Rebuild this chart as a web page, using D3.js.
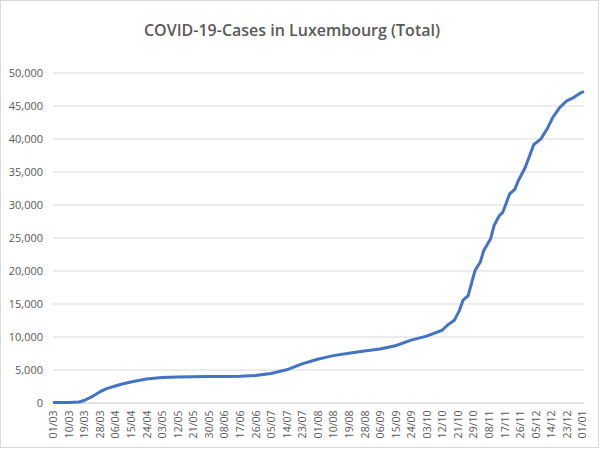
<!DOCTYPE html>
<html>
<head>
<meta charset="utf-8">
<script src="https://cdn.jsdelivr.net/npm/d3@7"></script>
<style>
  body { margin: 0; background: #fff; }
  svg { display: block; }
  text { font-family: "Open Sans", "Noto Sans", sans-serif; }
</style>
</head>
<body>
<div id="chart"></div>
<script>
// Chart size
const width = 600;
const height = 449;

// Tick labels on the date axis (one every 9 days)
const tickLabels = ["01/03", "10/03", "19/03", "28/03", "06/04", "15/04", "24/04",
  "03/05", "12/05", "21/05", "30/05", "08/06", "17/06", "26/06", "05/07", "14/07",
  "23/07", "01/08", "10/08", "19/08", "28/08", "06/09", "15/09", "24/09", "03/10",
  "12/10", "21/10", "29/10", "08/11", "17/11", "26/11", "05/12", "14/12", "23/12", "01/01"];
const tickStep = 9;
const lastDay = 307;

// Day index (from 01/03) and total cases
const sampleDay = [0, 9, 15, 18, 22, 27, 31, 36, 40, 45, 54, 63, 72, 81, 90, 99, 108,
  117, 126, 135, 144, 153, 162, 171, 180, 189, 198, 207, 216, 225, 228, 232, 235, 237,
  240, 244, 247, 249, 253, 255, 258, 260, 264, 267, 269, 273, 278, 282, 286, 289, 293,
  297, 301, 305, 307];
const totalCases = [0, 5, 80, 300, 800, 1600, 2100, 2500, 2800, 3100, 3550, 3780, 3850,
  3900, 3930, 3950, 3980, 4080, 4400, 4950, 5850, 6550, 7100, 7450, 7800, 8100, 8600,
  9450, 10050, 10950, 11700, 12450, 13960, 15470, 16200, 20000, 21250, 23000, 24800,
  26800, 28300, 28800, 31600, 32300, 33600, 35600, 39100, 39900, 41600, 43200, 44700,
  45700, 46200, 46900, 47100];
const yTicks = [0, 5000, 10000, 15000, 20000, 25000, 30000, 35000, 40000, 45000, 50000];

const margin = { top: 72.5, right: 16, bottom: 46.5, left: 53 };

const svg = d3.select("#chart").append("svg")
    .attr("width", width)
    .attr("height", height);

// Outer chart border
svg.append("rect")
    .attr("x", 0.5).attr("y", 0.5)
    .attr("width", width - 2).attr("height", height - 2)
    .attr("fill", "#fff")
    .attr("stroke", "#d9d9d9");

svg.append("text")
    .attr("x", 292)
    .attr("y", 36)
    .attr("text-anchor", "middle")
    .attr("font-size", 16)
    .attr("font-weight", 600)
    .attr("fill", "#595959")
    .text("COVID-19-Cases in Luxembourg (Total)");

const x = d3.scaleLinear()
    .domain([0, lastDay])
    .range([margin.left, width - margin.right]);

const y = d3.scaleLinear()
    .domain([0, 50000])
    .range([height - margin.bottom, margin.top]);

// Y axis with gridlines
const yAxis = svg.append("g")
    .attr("transform", `translate(${margin.left},0)`)
    .call(d3.axisLeft(y)
        .tickValues(yTicks)
        .tickFormat(d3.format(","))
        .tickSize(-(width - margin.right - margin.left))
        .tickPadding(10));
yAxis.select(".domain").remove();
yAxis.selectAll(".tick line").attr("stroke", "#d9d9d9");
yAxis.selectAll(".tick text")
    .attr("font-size", 11)
    .attr("fill", "#595959");

// X axis with rotated date labels
const xAxis = svg.append("g")
    .attr("transform", `translate(0,${y(0)})`)
    .call(d3.axisBottom(x)
        .tickValues(tickLabels.map((d, k) => k * tickStep))
        .tickFormat((d, k) => tickLabels[k])
        .tickSize(0));
xAxis.select(".domain").attr("stroke", "#d9d9d9");
xAxis.selectAll(".tick text")
    .attr("font-size", 10.5)
    .attr("fill", "#595959")
    .attr("text-anchor", "end")
    .attr("transform", "rotate(-90)")
    .attr("x", -8)
    .attr("y", 0)
    .attr("dy", "0.35em");

// Cases line
const line = d3.line()
    .x((d, k) => x(sampleDay[k]))
    .y(d => y(d));

svg.append("path")
    .datum(totalCases)
    .attr("fill", "none")
    .attr("stroke", "#4472c4")
    .attr("stroke-width", 3)
    .attr("stroke-linejoin", "round")
    .attr("d", line);
</script>
</body>
</html>
